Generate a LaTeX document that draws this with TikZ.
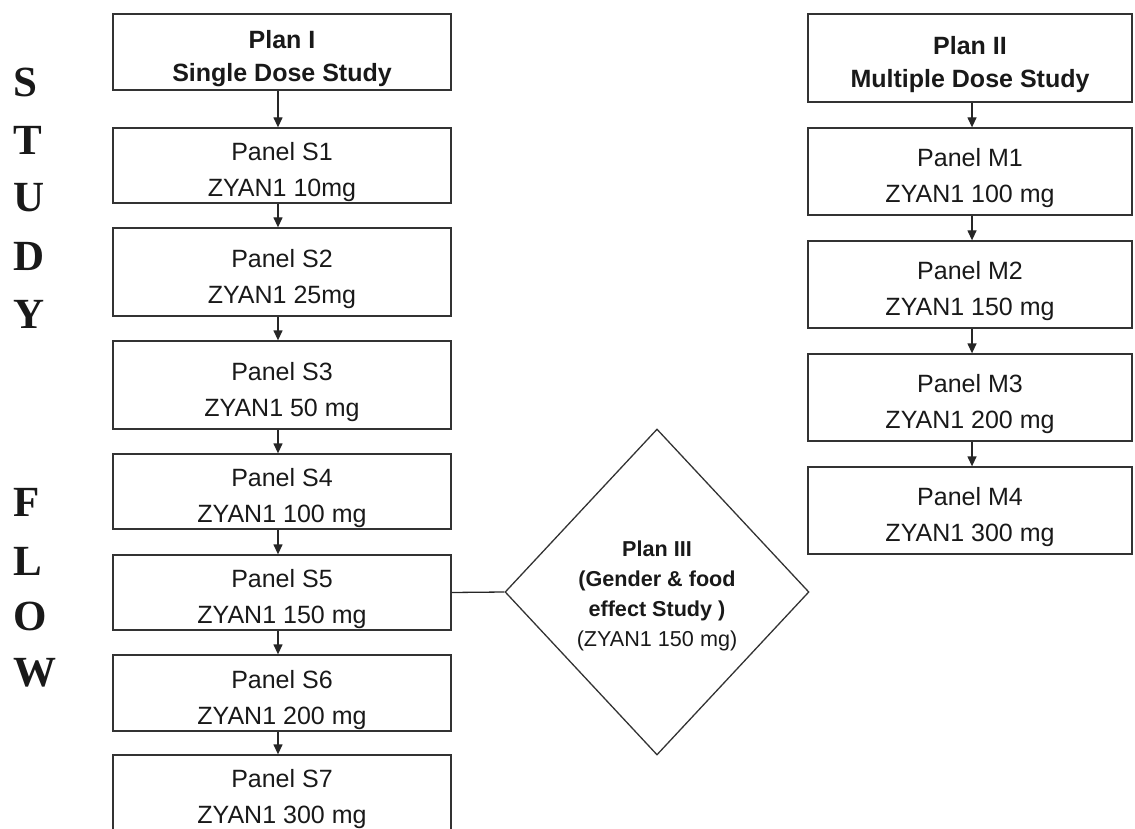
\documentclass[tikz,border=0pt]{standalone}
\usepackage{fontspec}
\setmainfont{Liberation Sans}
\newfontfamily\tmsfont{Liberation Serif}
\usetikzlibrary{arrows.meta,shapes.geometric}
\begin{document}
\begin{tikzpicture}[x=1pt,y=-1pt,
 box/.style={draw=black!80, line width=1.3pt, inner sep=0pt},
 lbox/.style={box, minimum width=338pt},
 rbox/.style={box, minimum width=324pt},
 txt/.style={align=center, inner sep=0pt, text=black!90, yshift=-7pt, font=\fontsize{25}{36}\selectfont},
 ttl/.style={txt, font=\bfseries\fontsize{25}{33}\selectfont},
 arr/.style={draw=black!85, line width=1.3pt, -{Triangle[length=10pt,width=9pt]}},
 letter/.style={font=\tmsfont\bfseries\fontsize{43}{43}\selectfont, text=black!90, inner sep=0pt, anchor=west}
]
\useasboundingbox (0,0) rectangle (1135,829);
\clip (0,0) rectangle (1135,829);

% side letters
\node[letter] (lS) at (13,82.5) {S};
\node[letter] (lT) at (13,140) {T};
\node[letter] (lU) at (13,198) {U};
\node[letter] (lD) at (13,256) {D};
\node[letter] (lY) at (13,314) {Y};
\node[letter] (lF) at (13,502) {F};
\node[letter] (lL) at (13,561) {L};
\node[letter] (lO) at (13,616) {O};
\node[letter] (lW) at (13,673) {W};

% left column
\node[lbox, minimum height=76pt, label={[ttl]center:{Plan I\\Single Dose Study}}] (p1) at (282,52) {};
\node[lbox, minimum height=75pt, label={[txt]center:{Panel S1\\ZYAN1 10mg}}] (s1) at (282,165.5) {};
\node[lbox, minimum height=88pt, label={[txt]center:{Panel S2\\ZYAN1 25mg}}] (s2) at (282,272) {};
\node[lbox, minimum height=88pt, label={[txt]center:{Panel S3\\ZYAN1 50 mg}}] (s3) at (282,385) {};
\node[lbox, minimum height=75pt, label={[txt]center:{Panel S4\\ZYAN1 100 mg}}] (s4) at (282,491.5) {};
\node[lbox, minimum height=75pt, label={[txt]center:{Panel S5\\ZYAN1 150 mg}}] (s5) at (282,592.5) {};
\node[lbox, minimum height=76pt, label={[txt]center:{Panel S6\\ZYAN1 200 mg}}] (s6) at (282,693) {};
\node[lbox, minimum height=75pt, label={[txt]center:{Panel S7\\ZYAN1 300 mg}}] (s7) at (282,792.5) {};

\foreach \a/\b in {p1/s1,s1/s2,s2/s3,s3/s4,s4/s5,s5/s6,s6/s7}
  \draw[arr] ([xshift=-4pt]\a.south) -- ([xshift=-4pt]\b.north);

% right column
\node[rbox, minimum height=88pt, label={[ttl]center:{Plan II\\Multiple Dose Study}}] (p2) at (970,58) {};
\node[rbox, minimum height=87pt, label={[txt]center:{Panel M1\\ZYAN1 100 mg}}] (m1) at (970,171.5) {};
\node[rbox, minimum height=87pt, label={[txt]center:{Panel M2\\ZYAN1 150 mg}}] (m2) at (970,284.5) {};
\node[rbox, minimum height=87pt, label={[txt]center:{Panel M3\\ZYAN1 200 mg}}] (m3) at (970,397.5) {};
\node[rbox, minimum height=87pt, label={[txt]center:{Panel M4\\ZYAN1 300 mg}}] (m4) at (970,510.5) {};

\foreach \a/\b in {p2/m1,m1/m2,m2/m3,m3/m4}
  \draw[arr] ([xshift=2pt]\a.south) -- ([xshift=2pt]\b.north);

% diamond
\node[draw=black!80, line width=1.3pt, shape=diamond, minimum width=304pt, minimum height=326pt, inner sep=0pt,
  label={[txt, yshift=3pt, font=\fontsize{21.6}{30}\selectfont]center:{\textbf{Plan III}\\\textbf{(Gender \& food}\\\textbf{effect Study )}\\(ZYAN1 150 mg)}}] (p3) at (657,592) {};

\draw[draw=black!85, line width=1.3pt] (s5.east) -- (p3.west);
\end{tikzpicture}
\end{document}
